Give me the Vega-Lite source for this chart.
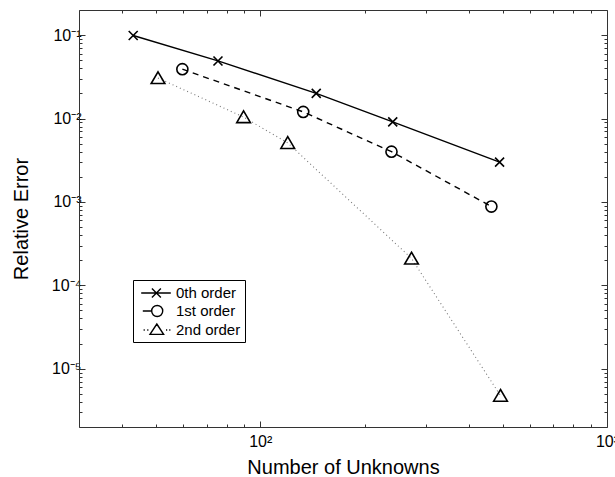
{
  "$schema": "https://vega.github.io/schema/vega-lite/v6.json",
  "width": 528,
  "height": 417,
  "autosize": {"type": "none"},
  "padding": {"left": 79, "top": 10, "right": 8, "bottom": 50},
  "background": "white",
  "config": {
    "view": {"stroke": null},
    "font": "Liberation Sans",
    "axis": {
      "labelFont": "Liberation Sans",
      "titleFont": "Liberation Sans",
      "labelColor": "black",
      "titleColor": "black",
      "titleFontWeight": "normal",
      "domainColor": "#333333",
      "tickColor": "#333333",
      "domainWidth": 1,
      "tickWidth": 1,
      "grid": false,
      "labelOverlap": false,
      "labelFlush": false,
      "labelBound": false
    }
  },
  "data": {
    "values": [
      {"series": "0th order", "n": 43, "err": 0.099},
      {"series": "0th order", "n": 75.5, "err": 0.049},
      {"series": "0th order", "n": 145, "err": 0.02},
      {"series": "0th order", "n": 241, "err": 0.0091},
      {"series": "0th order", "n": 490, "err": 0.003},
      {"series": "1st order", "n": 59.6, "err": 0.039},
      {"series": "1st order", "n": 133, "err": 0.012},
      {"series": "1st order", "n": 239, "err": 0.004},
      {"series": "1st order", "n": 464, "err": 0.00088},
      {"series": "2nd order", "n": 50.7, "err": 0.0306},
      {"series": "2nd order", "n": 89.5, "err": 0.0104},
      {"series": "2nd order", "n": 120, "err": 0.0051},
      {"series": "2nd order", "n": 273, "err": 0.00021},
      {"series": "2nd order", "n": 493, "err": 0.00000475}
    ]
  },
  "layer": [
    {
      "transform": [{"filter": "datum.series === '0th order'"}],
      "mark": {"type": "line", "strokeWidth": 1.4, "color": "black"},
      "encoding": {
        "x": {
          "field": "n", "type": "quantitative",
          "scale": {"type": "log", "domain": [30, 1000], "nice": false},
          "axis": {
            "orient": "bottom",
            "values": [30, 40, 50, 60, 70, 80, 90, 100, 200, 300, 400, 500, 600, 700, 800, 900, 1000],
            "labelExpr": "datum.value === 100 ? '10²' : datum.value === 1000 ? '10³' : ''",
            "tickSize": {"condition": {"test": "datum.value === 100 || datum.value === 1000", "value": -6}, "value": -3},
            "labelPadding": 12,
            "labelFontSize": 16,
            "title": "Number of Unknowns",
            "titleFontSize": 20,
            "titlePadding": 5
          }
        },
        "y": {
          "field": "err", "type": "quantitative",
          "scale": {"type": "log", "domain": [0.000002, 0.2], "nice": false},
          "axis": {
            "orient": "left",
            "values": [0.000003, 0.000004, 0.000005, 0.000006, 0.000007, 0.000008, 0.000009, 0.00001, 0.00002, 0.00003, 0.00004, 0.00005, 0.00006, 0.00007, 0.00008, 0.00009, 0.0001, 0.0002, 0.0003, 0.0004, 0.0005, 0.0006, 0.0007, 0.0008, 0.0009, 0.001, 0.002, 0.003, 0.004, 0.005, 0.006, 0.007, 0.008, 0.009, 0.01, 0.02, 0.03, 0.04, 0.05, 0.06, 0.07, 0.08, 0.09, 0.1],
            "labelExpr": "datum.value === 0.1 ? '10⁻¹' : datum.value === 0.01 ? '10⁻²' : datum.value === 0.001 ? '10⁻³' : datum.value === 0.0001 ? '10⁻⁴' : datum.value === 0.00001 ? '10⁻⁵' : ''",
            "tickSize": {"condition": {"test": "indexof([0.1, 0.01, 0.001, 0.0001, 0.00001], datum.value) >= 0", "value": -6}, "value": -3},
            "labelPadding": 4,
            "labelFontSize": 16,
            "title": "Relative Error",
            "titleFontSize": 20,
            "titlePadding": 20
          }
        }
      }
    },
    {
      "transform": [{"filter": "datum.series === '1st order'"}],
      "mark": {"type": "line", "strokeWidth": 1.4, "color": "black", "strokeDash": [6, 5]},
      "encoding": {
        "x": {"field": "n", "type": "quantitative", "scale": {"type": "log", "domain": [30, 1000], "nice": false}, "axis": null},
        "y": {"field": "err", "type": "quantitative", "scale": {"type": "log", "domain": [0.000002, 0.2], "nice": false}, "axis": null}
      }
    },
    {
      "transform": [{"filter": "datum.series === '2nd order'"}],
      "mark": {"type": "line", "strokeWidth": 1.1, "color": "#777777", "strokeDash": [1, 3]},
      "encoding": {
        "x": {"field": "n", "type": "quantitative", "scale": {"type": "log", "domain": [30, 1000], "nice": false}, "axis": null},
        "y": {"field": "err", "type": "quantitative", "scale": {"type": "log", "domain": [0.000002, 0.2], "nice": false}, "axis": null}
      }
    },
    {
      "mark": {"type": "point", "filled": false, "strokeWidth": 1.6, "color": "black", "opacity": 1, "size": 170},
      "encoding": {
        "x": {"field": "n", "type": "quantitative", "scale": {"type": "log", "domain": [30, 1000], "nice": false}, "axis": null},
        "y": {"field": "err", "type": "quantitative", "scale": {"type": "log", "domain": [0.000002, 0.2], "nice": false}, "axis": null},
        "shape": {
          "field": "series", "type": "nominal",
          "scale": {"domain": ["0th order", "1st order", "2nd order"], "range": ["M-0.69,-0.69L0.69,0.69M-0.69,0.69L0.69,-0.69", "M0.85,0A0.85,0.85 0 1,1 -0.85,0A0.85,0.85 0 1,1 0.85,0", "M0,-0.95L1.05,0.85L-1.05,0.85Z"]},
          "legend": null
        }
      }
    },
    {
      "transform": [{"filter": "datum.series === 'legend only'"}],
      "mark": {"type": "point", "filled": false, "strokeWidth": 1.4, "color": "black", "opacity": 1, "size": 256},
      "encoding": {
        "x": {"field": "n", "type": "quantitative", "scale": {"type": "log", "domain": [30, 1000], "nice": false}, "axis": null},
        "y": {"field": "err", "type": "quantitative", "scale": {"type": "log", "domain": [0.000002, 0.2], "nice": false}, "axis": null},
        "shape": {
          "field": "series", "type": "nominal",
          "scale": {"domain": ["0th order", "1st order", "2nd order"], "range": [
            "M-0.6,0L3.1,0M0.74,-0.56L1.86,0.56M0.74,0.56L1.86,-0.56",
            "M-0.4,0L0.71,0M2.09,0A0.69,0.69 0 1,1 0.71,0A0.69,0.69 0 1,1 2.09,0",
            "M-0.3,0L-0.15,0M0.15,0L0.3,0M2.5,0L2.65,0M2.9,0L3.05,0M1.35,-0.75L2.2,0.55L0.5,0.55Z"
          ]},
          "legend": {
            "title": null,
            "orient": "none",
            "legendX": 54,
            "legendY": 270,
            "strokeColor": "black",
            "fillColor": "white",
            "padding": 4,
            "rowPadding": 1,
            "labelFont": "Liberation Sans",
            "labelFontSize": 15,
            "labelColor": "black",
            "labelOffset": 21,
            "symbolSize": 256,
            "symbolStrokeWidth": 1.4,
            "symbolStrokeColor": "black",
            "symbolFillColor": "transparent",
            "symbolOpacity": 1
          }
        }
      }
    },
    {
      "mark": {"type": "point", "opacity": 0},
      "encoding": {
        "x": {
          "field": "n", "type": "quantitative",
          "scale": {"type": "log", "domain": [30, 1000], "nice": false},
          "axis": {
            "orient": "top",
            "values": [30, 40, 50, 60, 70, 80, 90, 100, 200, 300, 400, 500, 600, 700, 800, 900, 1000],
            "labels": false,
            "title": null,
            "tickSize": {"condition": {"test": "datum.value === 100 || datum.value === 1000", "value": -6}, "value": -3}
          }
        },
        "y": {
          "field": "err", "type": "quantitative",
          "scale": {"type": "log", "domain": [0.000002, 0.2], "nice": false},
          "axis": {
            "orient": "right",
            "values": [0.000003, 0.000004, 0.000005, 0.000006, 0.000007, 0.000008, 0.000009, 0.00001, 0.00002, 0.00003, 0.00004, 0.00005, 0.00006, 0.00007, 0.00008, 0.00009, 0.0001, 0.0002, 0.0003, 0.0004, 0.0005, 0.0006, 0.0007, 0.0008, 0.0009, 0.001, 0.002, 0.003, 0.004, 0.005, 0.006, 0.007, 0.008, 0.009, 0.01, 0.02, 0.03, 0.04, 0.05, 0.06, 0.07, 0.08, 0.09, 0.1],
            "labels": false,
            "title": null,
            "tickSize": {"condition": {"test": "indexof([0.1, 0.01, 0.001, 0.0001, 0.00001], datum.value) >= 0", "value": -6}, "value": -3}
          }
        }
      }
    }
  ],
  "resolve": {"axis": {"x": "independent", "y": "independent"}, "scale": {"shape": "independent"}}
}
